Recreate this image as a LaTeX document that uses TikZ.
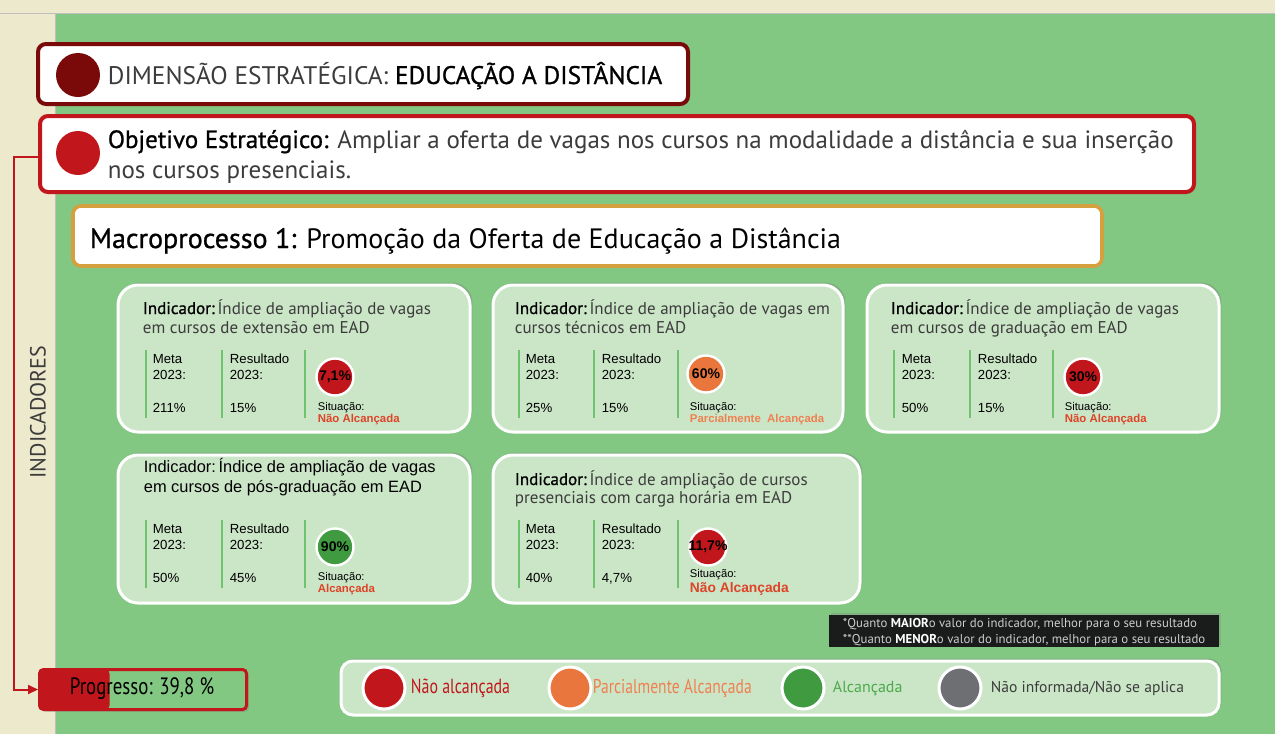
\documentclass[tikz,border=0pt]{standalone}
\usepackage{fontspec}
\setmainfont{PT Sans}
\newfontfamily\medf[FakeBold=0.9]{PT Sans}
\newfontfamily\arialf{Liberation Sans}
\usepackage{graphicx}
\usetikzlibrary{shadows,arrows.meta}

\definecolor{creamBg}{RGB}{236,233,204}
\definecolor{greenBg}{RGB}{130,199,130}
\definecolor{cardFill}{RGB}{203,229,199}
\definecolor{darkRed}{RGB}{122,10,10}
\definecolor{brightRed}{RGB}{193,22,27}
\definecolor{goldLine}{RGB}{214,160,62}
\definecolor{dotOrange}{RGB}{233,118,60}
\definecolor{dotGreen}{RGB}{64,155,64}
\definecolor{dotGray}{RGB}{110,111,115}
\definecolor{statRed}{RGB}{222,68,40}
\definecolor{statOrange}{RGB}{240,128,80}
\definecolor{legGreen}{RGB}{76,170,76}
\definecolor{colLine}{RGB}{110,196,110}
\definecolor{txtGray}{RGB}{60,60,60}
\definecolor{noteBg}{RGB}{26,28,28}

\tikzset{
  card/.style={draw=white, line width=1.5pt, fill=cardFill, rounded corners=10pt,
    drop shadow={shadow xshift=1.2pt, shadow yshift=1.2pt, opacity=0.35}},
  collabel/.style={anchor=base west, inner sep=0.75pt, font=\arialf\fontsize{6.6}{8}\selectfont},
  colline/.style={colLine, line width=1pt},
  dot/.style={circle, draw=white, line width=1.2pt, minimum size=18.5pt, inner sep=0pt},
  legdot/.style={circle, draw=white, line width=1.5pt, minimum size=21pt, inner sep=0pt},
  val/.style={inner sep=0pt, font=\arialf\bfseries\fontsize{7}{8}\selectfont},
  sit/.style={anchor=base west, inner sep=0.75pt, font=\arialf\fontsize{5.6}{7}\selectfont},
  stat/.style={anchor=base west, inner sep=0.75pt, font=\arialf\bfseries\fontsize{5.7}{7}\selectfont},
  ttl/.style={anchor=base west, inner sep=0.75pt, text=txtGray, font=\fontsize{8.5}{10}\selectfont},
  leglabel/.style={anchor=west, inner sep=0.75pt}
}

\begin{document}
\begin{tikzpicture}[x=0.5pt,y=0.5pt,yscale=-1,xscale=1]
\useasboundingbox (0,0) rectangle (1275,734);

%Shape: Background
\fill[creamBg] (0,0) rectangle (1275,734);
\fill[greenBg] (55,13) rectangle (1275,734);
\draw[black!25, line width=0.5pt] (0,13) -- (1275,13);
\draw[black!25, line width=0.5pt] (55,13) -- (55,734);

%Shape: Dimension box
\draw[darkRed, line width=2pt, fill=white, rounded corners=4pt] (38,44) rectangle (688,104);
\node[circle, fill=darkRed, minimum size=22pt, inner sep=0pt] (dimdot) at (78,75) {};
% Text Node
\draw (106,84) node [anchor=base west][inner sep=0.75pt] (dimtxt) {\fontsize{12.7}{14}\selectfont \textcolor{txtGray}{DIMENSÃO ESTRATÉGICA:} {\medf EDUCAÇÃO A DISTÂNCIA}};

%Shape: Objective box
\node[draw=brightRed, line width=2pt, fill=white, rounded corners=4pt, minimum width=577pt, minimum height=38pt, inner sep=0pt, anchor=north west] (obj) at (38,114) {};
\node[circle, fill=brightRed, minimum size=22pt, inner sep=0pt] (objdot) at (78,153) {};
% Text Node
\draw (106,148) node [anchor=base west][inner sep=0.75pt] (objtxt1) {\fontsize{12.5}{14}\selectfont {\medf Objetivo Estratégico:} \textcolor{txtGray}{Ampliar a oferta de vagas nos cursos na modalidade a distância e sua inserção}};
% Text Node
\draw (106,178) node [anchor=base west][inner sep=0.75pt] (objtxt2) {\fontsize{12.5}{14}\selectfont \textcolor{txtGray}{nos cursos presenciais.}};

%Shape: Macroprocess box
\draw[goldLine, line width=1.8pt, fill=white, rounded corners=4pt] (73,206) rectangle (1102,266);
% Text Node
\draw (88,248) node [anchor=base west][inner sep=0.75pt] (macrotxt) {\fontsize{14}{16}\selectfont {\medf Macroprocesso 1:} Promoção da Oferta de Educação a Distância};

% Text Node
\node[rotate=90, inner sep=0.75pt, text=txtGray, font=\fontsize{11}{13}\selectfont] (indlabel) at (38,412) {INDICADORES};

%Shape: Progress box
\node[draw=brightRed, line width=1.5pt, fill=greenBg, rounded corners=2pt, minimum width=103.5pt, minimum height=20pt, inner sep=0pt, anchor=north west,
  path picture={\fill[brightRed] (path picture bounding box.north west) rectangle ([xshift=35pt]path picture bounding box.south west);},
  drop shadow={shadow xshift=1.2pt, shadow yshift=-1.2pt, opacity=0.35}] (prog) at (38,668) {};
% Text Node
\node[inner sep=0.75pt] (progtxt) at (142,689) {\scalebox{0.8}[1]{\fontsize{11.8}{13}\selectfont Progresso: 39,8 \%}};

%Straight Lines
\coordinate (objL) at (obj.west |- 0,157);
\draw[brightRed, line width=1pt, -{Triangle[length=5pt,width=4.5pt]}] (objL) -- (14,157) |- (prog.west);

%Shape: Cards
\draw[card] (118,285) rectangle (470,432);
\draw[card] (493,285) rectangle (843,432);
\draw[card] (867,285) rectangle (1219,432);
\draw[card] (118,455) rectangle (470,603);
\draw[card] (493,455) rectangle (860,603);

%Card 1
\draw (141,314) node [ttl] (c1t1) {{\medf\color{black}Indicador:}\,Índice de ampliação de vagas};
\draw (141,333) node [ttl] (c1t2) {em cursos de extensão em EAD};
\draw[colline] (146,350) -- (146,418);
\draw[colline] (222,350) -- (222,418);
\draw[colline] (305,350) -- (305,418);
\draw (151,363) node [collabel] (c1m1) {Meta};
\draw (151,379) node [collabel] (c1m2) {2023:};
\draw (151,412) node [collabel] (c1m3) {211\%};
\draw (228,363) node [collabel] (c1r1) {Resultado};
\draw (228,379) node [collabel] (c1r2) {2023:};
\draw (228,412) node [collabel] (c1r3) {15\%};
\node[dot, fill=brightRed] (c1dot) at (335,377) {};
\node[val] (c1val) at (c1dot) {7,1\%};
\draw (316,410) node [sit] (c1sit) {Situação:};
\draw (316,422) node [stat, text=statRed] (c1stat) {Não Alcançada};

%Card 2
\draw (513,314) node [ttl] (c2t1) {{\medf\color{black}Indicador:}\,Índice de ampliação de vagas em};
\draw (513,333) node [ttl] (c2t2) {cursos técnicos em EAD};
\draw[colline] (519,350) -- (519,418);
\draw[colline] (594,350) -- (594,418);
\draw[colline] (678,350) -- (678,418);
\draw (524,363) node [collabel] (c2m1) {Meta};
\draw (524,379) node [collabel] (c2m2) {2023:};
\draw (524,412) node [collabel] (c2m3) {25\%};
\draw (600,363) node [collabel] (c2r1) {Resultado};
\draw (600,379) node [collabel] (c2r2) {2023:};
\draw (600,412) node [collabel] (c2r3) {15\%};
\node[dot, fill=dotOrange] (c2dot) at (706,374) {};
\node[val] (c2val) at (c2dot) {60\%};
\draw (688,410) node [sit] (c2sit) {Situação:};
\draw (688,422) node [stat, text=statOrange] (c2stat) {Parcialmente\ \ Alcançada};

%Card 3
\draw (889,314) node [ttl] (c3t1) {{\medf\color{black}Indicador:}\,Índice de ampliação de vagas};
\draw (889,333) node [ttl] (c3t2) {em cursos de graduação em EAD};
\draw[colline] (894,350) -- (894,418);
\draw[colline] (970,350) -- (970,418);
\draw[colline] (1053,350) -- (1053,418);
\draw (900,363) node [collabel] (c3m1) {Meta};
\draw (900,379) node [collabel] (c3m2) {2023:};
\draw (900,412) node [collabel] (c3m3) {50\%};
\draw (976,363) node [collabel] (c3r1) {Resultado};
\draw (976,379) node [collabel] (c3r2) {2023:};
\draw (976,412) node [collabel] (c3r3) {15\%};
\node[dot, fill=brightRed] (c3dot) at (1083,377) {};
\node[val] (c3val) at (c3dot) {30\%};
\draw (1063,410) node [sit] (c3sit) {Situação:};
\draw (1063,422) node [stat, text=statRed] (c3stat) {Não Alcançada};

%Card 4
\draw (142,472) node [ttl, text=black, font=\arialf\fontsize{8.2}{10}\selectfont] (c4t1) {Indicador:\,Índice de ampliação de vagas};
\draw (142,492) node [ttl, text=black, font=\arialf\fontsize{8.2}{10}\selectfont] (c4t2) {em cursos de pós-graduação em EAD};
\draw[colline] (146,520) -- (146,588);
\draw[colline] (222,520) -- (222,588);
\draw[colline] (305,520) -- (305,588);
\draw (151,533) node [collabel] (c4m1) {Meta};
\draw (151,549) node [collabel] (c4m2) {2023:};
\draw (151,582) node [collabel] (c4m3) {50\%};
\draw (228,533) node [collabel] (c4r1) {Resultado};
\draw (228,549) node [collabel] (c4r2) {2023:};
\draw (228,582) node [collabel] (c4r3) {45\%};
\node[dot, fill=dotGreen] (c4dot) at (335,547) {};
\node[val] (c4val) at (c4dot) {90\%};
\draw (316,580) node [sit] (c4sit) {Situação:};
\draw (316,592) node [stat, text=statRed] (c4stat) {Alcançada};

%Card 5
\draw (513,485) node [ttl] (c5t1) {{\medf\color{black}Indicador:}\,Índice de ampliação de cursos};
\draw (513,503) node [ttl] (c5t2) {presenciais com carga horária em EAD};
\draw[colline] (519,520) -- (519,588);
\draw[colline] (594,520) -- (594,588);
\draw[colline] (678,520) -- (678,588);
\draw (524,533) node [collabel] (c5m1) {Meta};
\draw (524,549) node [collabel] (c5m2) {2023:};
\draw (524,582) node [collabel] (c5m3) {40\%};
\draw (600,533) node [collabel] (c5r1) {Resultado};
\draw (600,549) node [collabel] (c5r2) {2023:};
\draw (600,582) node [collabel] (c5r3) {4,7\%};
\node[dot, fill=brightRed] (c5dot) at (708,547) {};
\node[val] (c5val) at (c5dot) {11,7\%};
\draw (688,577) node [sit] (c5sit) {Situação:};
\draw (688,592) node [stat, text=statRed, font=\arialf\bfseries\fontsize{6.9}{8}\selectfont] (c5stat) {Não Alcançada};

%Shape: Note box
\fill[noteBg, drop shadow={shadow xshift=1pt, shadow yshift=1pt, opacity=0.3}] (829,615) rectangle (1219,647);
% Text Node
\draw (841,627) node [anchor=base west][inner sep=0.75pt, text=black!20, font=\fontsize{6.4}{7}\selectfont] (note1) {*Quanto {\bfseries\color{white}MAIOR}o valor do indicador, melhor para o seu resultado};
% Text Node
\draw (841,643) node [anchor=base west][inner sep=0.75pt, text=black!20, font=\fontsize{6.4}{7}\selectfont] (note2) {**Quanto {\bfseries\color{white}MENOR}o valor do indicador, melhor para o seu resultado};

%Shape: Legend box
\draw[draw=white, line width=1.5pt, fill=cardFill, rounded corners=6pt, drop shadow={shadow xshift=1.2pt, shadow yshift=1.2pt, opacity=0.35}] (341,661) rectangle (1219,715);
\node[legdot, fill=brightRed] (legred) at (384,688) {};
\node[legdot, fill=dotOrange] (legorange) at (570,688) {};
\node[legdot, fill=dotGreen] (leggreen) at (803,688) {};
\node[legdot, fill=dotGray] (leggray) at (960,688) {};
% Text Node
\node[leglabel, text=brightRed] (legredtxt) at (409,688) {\scalebox{0.78}[1]{\fontsize{10.2}{12}\selectfont Não alcançada}};
\node[leglabel, text=statOrange] (legorangetxt) at (591,688) {\scalebox{0.78}[1]{\fontsize{10}{12}\selectfont Parcialmente Alcançada}};
\node[leglabel, text=legGreen] (leggreentxt) at (831,688) {\fontsize{8}{10}\selectfont Alcançada};
\node[leglabel, text=txtGray] (leggraytxt) at (989,688) {\fontsize{7.8}{10}\selectfont Não informada/Não se aplica};

\end{tikzpicture}
\end{document}
